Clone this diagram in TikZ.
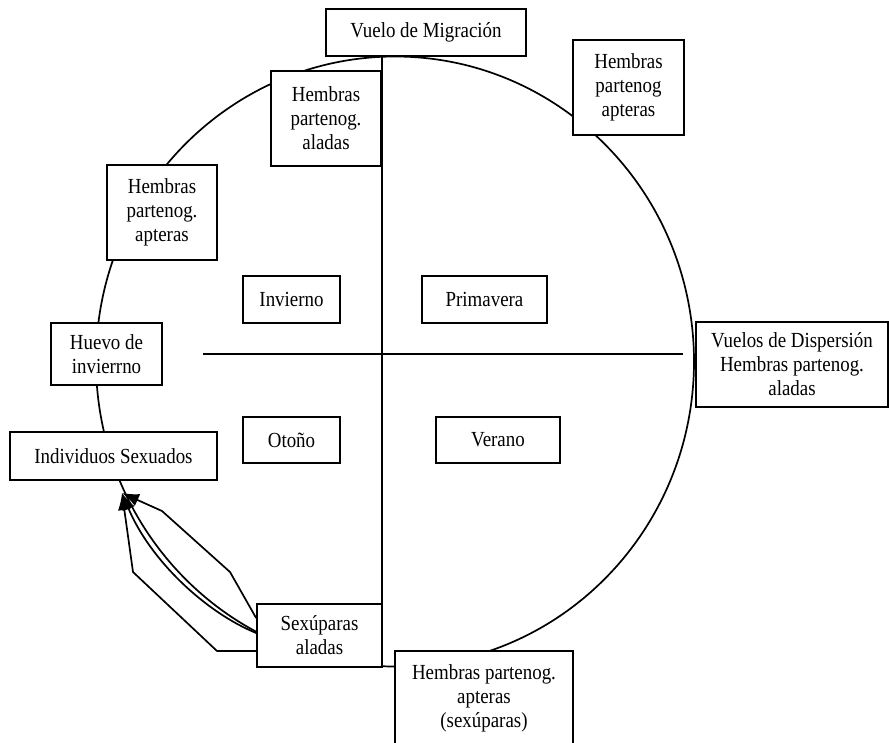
\documentclass[tikz,border=0pt]{standalone}
\usepackage{fontspec}
\setmainfont[FakeStretch=0.88]{Liberation Serif}
\usepackage{tikz}
\usetikzlibrary{arrows.meta,calc}
\newcommand{\cajaFont}[0]{\fontsize{21.5}{24}\selectfont}

\begin{document}
\begin{tikzpicture}[x=1pt, y=-1pt, line width=1.7pt]
  \tikzset{caja/.style={draw, fill=white, align=center, inner sep=0pt, font=\cajaFont}}
  \tikzset{flecha/.style={-{Latex[length=17pt,width=13pt]}}}
  \useasboundingbox (0,0) rectangle (889,742);
  \draw (395,361.5) ellipse [x radius=299pt, y radius=305pt];
  \coordinate (H-1) at (203,354);
  \coordinate (H-2) at (683,354);
  \coordinate (tip) at (122,493);
  \draw (H-1) -- (H-2);
  \node[caja, minimum width=200pt, minimum height=47pt] (vuelo) at (426,32.5) {Vuelo de Migración};
  \node[caja, minimum width=110pt, minimum height=95pt] (aladas) at (326,118.5) {Hembras\\partenog.\\aladas};
  \node[caja, minimum width=110pt, minimum height=95pt] (apteras-1) at (162,212.5) {Hembras\\partenog.\\apteras};
  \node[caja, minimum width=111pt, minimum height=95pt] (apteras-2) at (628.5,87.5) {Hembras\\partenog\\apteras};
  \node[caja, minimum width=97pt, minimum height=47pt] (invierno) at (291.5,299.5) {Invierno};
  \node[caja, minimum width=125pt, minimum height=47pt] (primavera) at (484.5,299.5) {Primavera};
  \node[caja, minimum width=97pt, minimum height=46pt] (otono) at (291.5,440) {Otoño};
  \node[caja, minimum width=124pt, minimum height=46pt] (verano) at (498,440) {Verano};
  \node[caja, minimum width=111pt, minimum height=62pt] (huevo) at (106.5,354) {Huevo de\\invierrno};
  \node[caja, minimum width=207pt, minimum height=48pt] (sexuados) at (113.5,456) {Individuos Sexuados};
  \node[caja, minimum width=192pt, minimum height=85pt] (dispersion) at (792,364.5) {Vuelos de Dispersión\\Hembras partenog.\\aladas};
  \node[caja, minimum width=125pt, minimum height=63pt] (sexuparas) at (319.5,635.5) {Sexúparas\\aladas};
  \node[caja, minimum width=178pt, minimum height=95pt] (apteras-3) at (484,698.5) {Hembras partenog.\\apteras\\(sexúparas)};
  \draw (vuelo.south -| aladas.east) -- (sexuparas.north -| aladas.east);
  \draw[flecha] ([yshift=17.5pt]sexuparas.west) -- (230,572) -- (162,511) -- (tip);
  \draw[flecha] ([yshift=2.5pt]sexuparas.west) .. controls (205,612) and (150,560) .. (tip);
  \draw[flecha] ([yshift=-15.5pt]sexuparas.west) -- (217,651) -- (133,572) -- (tip);
\end{tikzpicture}
\end{document}
